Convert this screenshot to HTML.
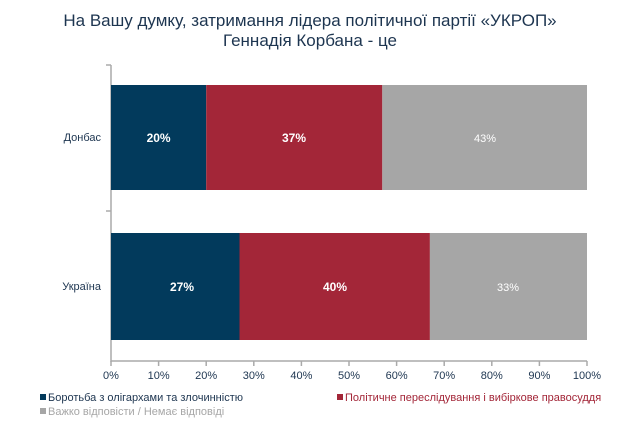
<!DOCTYPE html><html><head><style>
body{margin:0;width:620px;height:422px;background:#fff;font-family:"Liberation Sans",sans-serif;position:relative;overflow:hidden}
.t{position:absolute;left:0;width:620px;text-align:center;color:#1d3550;font-size:17px;line-height:20px}
.a{position:absolute;font-size:11px;color:#1d3550}
</style></head><body>
<div class="t" style="top:11px">На Вашу думку, затримання лідера політичної партії «УКРОП»</div>
<div class="t" style="top:31px">Геннадія Корбана - це</div>
<svg width="620" height="422" style="position:absolute;left:0;top:0" font-family="Liberation Sans" font-size="11">
<g stroke="#aaa" stroke-width="1.5">
<line x1="111" y1="65" x2="111" y2="362"/><line x1="106" y1="65" x2="111" y2="65"/>
<line x1="106" y1="211" x2="111" y2="211"/>
<line x1="111" y1="361" x2="587" y2="361"/>
<g id="tk"></g>
</g>
<g stroke="#aaa" stroke-width="1.5">
<line x1="111" y1="361" x2="111" y2="366"/><line x1="158.6" y1="361" x2="158.6" y2="366"/><line x1="206.2" y1="361" x2="206.2" y2="366"/><line x1="253.8" y1="361" x2="253.8" y2="366"/><line x1="301.4" y1="361" x2="301.4" y2="366"/><line x1="349" y1="361" x2="349" y2="366"/><line x1="396.6" y1="361" x2="396.6" y2="366"/><line x1="444.2" y1="361" x2="444.2" y2="366"/><line x1="491.8" y1="361" x2="491.8" y2="366"/><line x1="539.4" y1="361" x2="539.4" y2="366"/><line x1="587" y1="361" x2="587" y2="366"/>
</g>
<rect x="111" y="85" width="95.2" height="105" fill="#023a5c"/>
<rect x="206.2" y="85" width="176.1" height="105" fill="#a32638"/>
<rect x="382.3" y="85" width="204.7" height="105" fill="#a6a6a6"/>
<rect x="111" y="233" width="128.5" height="107" fill="#023a5c"/>
<rect x="239.5" y="233" width="190.4" height="107" fill="#a32638"/>
<rect x="429.9" y="233" width="157.1" height="107" fill="#a6a6a6"/>
<g font-weight="bold" font-size="12" fill="#fff" text-anchor="middle">
<text x="158.6" y="142">20%</text><text x="294" y="142">37%</text>
<text x="182" y="291">27%</text><text x="335" y="291">40%</text></g>
<g fill="#fff" text-anchor="middle"><text x="485" y="142">43%</text><text x="508" y="291">33%</text></g>
<g fill="#1d3550" text-anchor="end"><text x="101" y="141">Донбас</text><text x="101" y="290">Україна</text></g>
<g fill="#1d3550" text-anchor="middle">
<text x="111" y="379">0%</text><text x="158.6" y="379">10%</text><text x="206.2" y="379">20%</text><text x="253.8" y="379">30%</text><text x="301.4" y="379">40%</text><text x="349" y="379">50%</text><text x="396.6" y="379">60%</text><text x="444.2" y="379">70%</text><text x="491.8" y="379">80%</text><text x="539.4" y="379">90%</text><text x="587" y="379">100%</text></g>
<rect x="40" y="394" width="6" height="6" fill="#023a5c"/><text x="48" y="401" fill="#1d3550">Боротьба з олігархами та злочинністю</text>
<rect x="337" y="394" width="6" height="6" fill="#a32638"/><text x="345" y="401" fill="#a32638">Політичне переслідування і вибіркове правосуддя</text>
<rect x="40" y="408" width="6" height="6" fill="#a6a6a6"/><text x="48" y="415" fill="#a6a6a6">Важко відповісти / Немає відповіді</text>
</svg>
</body></html>
